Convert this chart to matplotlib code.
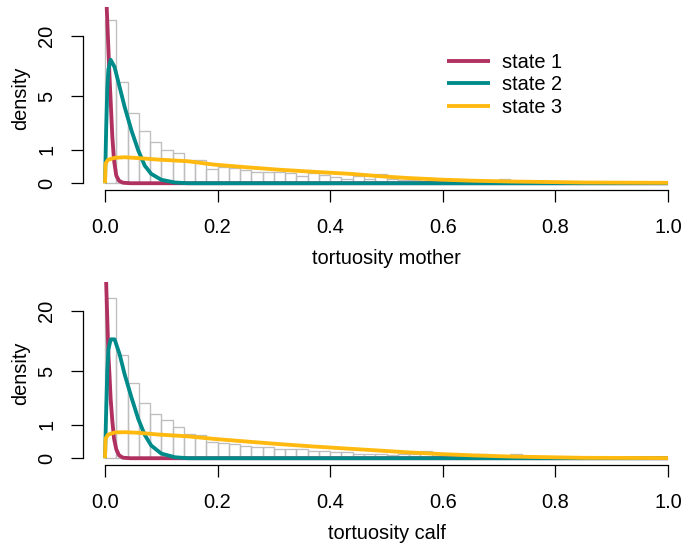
import numpy as np
import matplotlib
matplotlib.use("Agg")
import matplotlib.pyplot as plt

plt.rcParams["font.family"] = ["Liberation Sans", "DejaVu Sans"]
plt.rcParams["font.size"] = 12

# histogram: 50 bins of width 0.02 on [0, 1], densities
bin_edges = np.linspace(0, 1, 51)
hist_mother = [28.3, 7.06, 3.25, 1.93, 1.35, 0.98, 0.885, 0.62, 0.6, 0.34,
               0.39, 0.36, 0.32, 0.27, 0.25, 0.265, 0.24, 0.17, 0.24, 0.18,
               0.13, 0.10, 0.15, 0.10, 0.21, 0.08, 0.064, 0.058, 0.042, 0.04,
               0.03, 0.03, 0.025, 0.02, 0.02, 0.095, 0.015, 0.01, 0.01, 0.01,
               0.005, 0.005, 0.005, 0.005, 0.005, 0.005, 0.005, 0.005, 0.005, 0.005]
hist_calf = [26.1, 7.38, 3.76, 2.15, 1.49, 1.18, 0.9, 0.65, 0.6, 0.4,
             0.38, 0.33, 0.28, 0.27, 0.25, 0.215, 0.215, 0.2, 0.16, 0.17,
             0.125, 0.13, 0.08, 0.085, 0.08, 0.06, 0.08, 0.08, 0.15, 0.04,
             0.04, 0.035, 0.03, 0.095, 0.03, 0.025, 0.08, 0.02, 0.015, 0.01,
             0.01, 0.005, 0.005, 0.005, 0.005, 0.005, 0.005, 0.005, 0.005, 0.005]

# state density curves
s1_x = [0, 0.003, 0.006, 0.008, 0.010, 0.013, 0.016, 0.020, 0.025, 0.032, 0.045, 1.0]
s1_mother = [80, 37, 15, 8, 4.5, 1.6, 0.6, 0.17, 0.05, 0.01, 0, 0]
s1_calf = [80, 25, 7.5, 4.5, 2.4, 1.15, 0.5, 0.2, 0.06, 0.01, 0, 0]

s2_x = [0, 0.002, 0.004, 0.006, 0.010, 0.017, 0.026, 0.035, 0.047, 0.059,
        0.0705, 0.082, 0.100, 0.124, 0.147, 1.0]
s2_mother = [0, 2.0, 6.0, 9.5, 11.8, 10.0, 6.27, 3.81, 1.97, 0.97,
             0.44, 0.214, 0.073, 0.015, 0, 0]
s2_calf = [0, 1.6, 5.0, 8.4, 10.6, 10.6, 7.5, 4.6, 2.5, 1.25,
           0.62, 0.3, 0.1, 0.02, 0, 0]

s3_x = [0, 0.0008, 0.005, 0.017, 0.035, 0.059, 0.094, 0.147, 0.193, 0.252,
        0.311, 0.370, 0.435, 0.494, 0.536, 0.595, 0.654, 0.72, 0.85, 1.0]
s3_mother = [0, 0.49, 0.62, 0.69, 0.71, 0.68, 0.63, 0.575, 0.47, 0.39,
             0.32, 0.266, 0.214, 0.15, 0.115, 0.078, 0.053, 0.036, 0.015, 0.008]
s3_calf = [0, 0.49, 0.62, 0.70, 0.71, 0.69, 0.63, 0.57, 0.49, 0.41,
           0.336, 0.274, 0.215, 0.165, 0.13, 0.09, 0.06, 0.035, 0.008, 0.003]

state_labels = ["state 1", "state 2", "state 3"]
state_colors = ["#B03060", "#008B8B", "#FFB90F"]
y_ticks = [0, 1, 5, 20]
x_ticks = [0.0, 0.2, 0.4, 0.6, 0.8, 1.0]

panels = [
    ("tortuosity mother", hist_mother, [s1_mother, s2_mother, s3_mother]),
    ("tortuosity calf", hist_calf, [s1_calf, s2_calf, s3_calf]),
]
curve_x = [s1_x, s2_x, s3_x]

W, H, DPI = 683, 548, 120
fig = plt.figure(figsize=(W / DPI, H / DPI), dpi=DPI)

# plot regions in pixels: (left, top, right, bottom)
regions = [(82.5, 7, 690.5, 190), (82.5, 281.7, 690.5, 465)]

for (xlabel, hist, curves), (l, t, r, b) in zip(panels, regions):
    ax = fig.add_axes([l / W, 1 - b / H, (r - l) / W, (b - t) / H])
    ax.set_yscale("function", functions=(np.log1p, np.expm1))
    ax.bar(bin_edges[:-1], hist, width=0.02, align="edge", fill=False,
           edgecolor="#BEBEBE", linewidth=0.8)
    for xs, ys, col, lab in zip(curve_x, curves, state_colors, state_labels):
        ax.plot(xs, ys, color=col, linewidth=2.3, label=lab,
                solid_capstyle="butt", solid_joinstyle="round")
    ax.set_xlim(-0.04, 1.04)
    ax.set_ylim(np.expm1(-0.14), np.expm1(3.64))
    for side in ("top", "right"):
        ax.spines[side].set_visible(False)
    ax.spines["bottom"].set_bounds(0, 1)
    ax.spines["left"].set_bounds(0, 20)
    for side in ("bottom", "left"):
        ax.spines[side].set_linewidth(0.75)
    ax.set_xticks(x_ticks)
    ax.set_xticklabels([f"{v:.1f}" for v in x_ticks])
    ax.set_yticks(y_ticks)
    ax.set_yticklabels([str(v) for v in y_ticks], rotation=90, va="center")
    ax.yaxis.set_minor_locator(matplotlib.ticker.NullLocator())
    ax.tick_params(length=7.2, width=0.75, direction="out", labelsize=12)
    ax.tick_params(axis="x", pad=9.8)
    ax.tick_params(axis="y", pad=8.6)
    ax.set_xlabel(xlabel, fontsize=12, labelpad=6.8)
    ax.set_ylabel("density", fontsize=12, labelpad=4.4)
    if xlabel == "tortuosity mother":
        ax.legend(loc="upper left", bbox_to_anchor=(447 / W, 1 - 53 / H),
                  bbox_transform=fig.transFigure, frameon=False,
                  handlelength=2.15, handletextpad=0.6, labelspacing=0.17,
                  borderpad=0, borderaxespad=0, fontsize=12)

fig.savefig("out.png", dpi=DPI)
